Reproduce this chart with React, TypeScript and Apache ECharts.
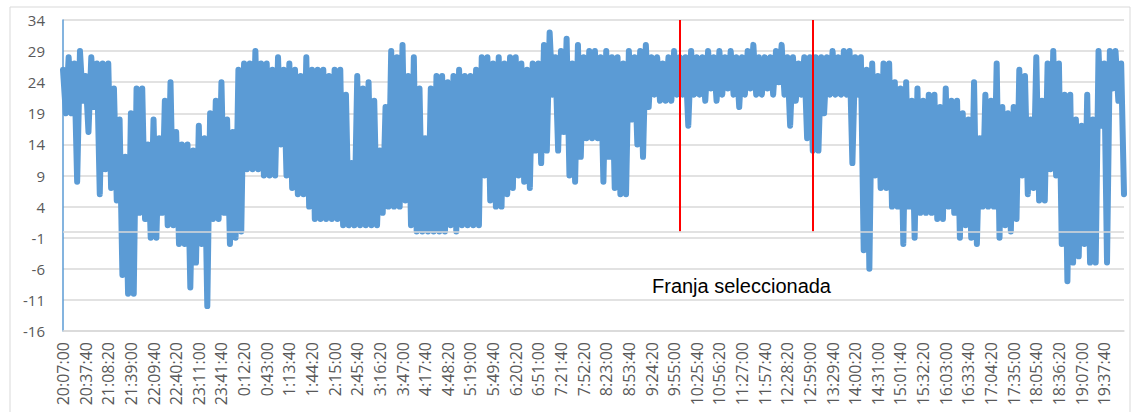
import React, { useEffect, useRef } from "react";
import * as echarts from "echarts";

// Axis tick labels (every 8th category)
const tickLabels = [
  "20:07:00", "20:37:40", "21:08:20", "21:39:00", "22:09:40", "22:40:20", "23:11:00", "23:41:40",
  "0:12:20", "0:43:00", "1:13:40", "1:44:20", "2:15:00", "2:45:40", "3:16:20", "3:47:00",
  "4:17:40", "4:48:20", "5:19:00", "5:49:40", "6:20:20", "6:51:00", "7:21:40", "7:52:20",
  "8:23:00", "8:53:40", "9:24:20", "9:55:00", "10:25:40", "10:56:20", "11:27:00", "11:57:40",
  "12:28:20", "12:59:00", "13:29:40", "14:00:20", "14:31:00", "15:01:40", "15:32:20", "16:03:00",
  "16:33:40", "17:04:20", "17:35:00", "18:05:40", "18:36:20", "19:07:00", "19:37:40",
];

// Readings (upper and lower swings of each sampling pair)
const highs = [
  26, 28, 27, 29, 25, 28, 27, 27, 27, 23,
  18, 12, 19, 23, 23, 14, 18, 15, 21, 24,
  16, 14, 14, 13, 17, 15, 19, 21, 24, 18,
  16, 26, 27, 27, 29, 27, 27, 26, 28, 26,
  27, 26, 25, 28, 26, 26, 26, 25, 26, 26,
  22, 11, 25, 23, 24, 21, 13, 20, 29, 28,
  30, 25, 28, 23, 15, 23, 25, 25, 24, 25,
  26, 25, 25, 26, 28, 28, 27, 28, 27, 28,
  28, 27, 26, 27, 27, 30, 32, 28, 29, 31,
  27, 30, 28, 29, 29, 28, 29, 28, 28, 27,
  29, 28, 29, 30, 28, 28, 27, 28, 29, 28,
  28, 29, 28, 28, 29, 28, 29, 28, 29, 28,
  28, 29, 30, 28, 28, 28, 29, 30, 28, 28,
  27, 28, 28, 28, 28, 28, 29, 28, 29, 29,
  28, 28, 26, 27, 25, 27, 27, 24, 23, 24,
  21, 23, 21, 22, 22, 20, 23, 21, 21, 19,
  18, 24, 15, 22, 21, 27, 20, 19, 20, 26,
  25, 18, 28, 21, 27, 29, 27, 22, 22, 18,
  17, 22, 18, 29, 27, 29, 29, 27,
];
const lows = [
  19, 19, 8, 21, 16, 20, 6, 10, 7, 5,
  -7, -10, -10, 3, 2, -1, -1, 3, 1, 1,
  -2, -2, -9, -5, -2, -12, 2, 2, 3, -2,
  -1, 0, 10, 10, 10, 9, 9, 9, 14, 9,
  7, 6, 6, 4, 2, 2, 2, 2, 2, 1,
  1, 1, 1, 1, 1, 1, 3, 4, 4, 4,
  5, 1, 0, 0, 0, 0, 0, 0, 1, 0,
  1, 1, 1, 1, 9, 5, 4, 4, 6, 7,
  9, 8, 7, 13, 11, 13, 22, 13, 16, 9,
  8, 12, 15, 15, 15, 8, 12, 7, 6, 6,
  18, 14, 12, 20, 22, 21, 21, 21, 22, 22,
  17, 22, 22, 21, 23, 21, 22, 23, 22, 20,
  22, 23, 22, 22, 23, 22, 24, 22, 17, 21,
  22, 15, 13, 13, 19, 22, 22, 22, 22, 11,
  22, -3, -6, 9, 7, 7, 4, 4, -2, 4,
  -1, 3, 3, 3, 2, 2, 4, 3, -1, 1,
  -1, -2, 4, 4, 4, -1, 1, 0, 2, 9,
  6, 7, 5, 5, 10, 9, -2, -8, -5, -4,
  -2, -5, -5, 17, -5, 23, 21, 6,
];

const bandMarkers = ["10:02:40", "13:02:50"];
const bandLabel = "Franja seleccionada";

const START_SEC = 20 * 3600 + 7 * 60;
const STEP_SEC = 230;

function fmtTime(sec: number): string {
  const s = ((sec % 86400) + 86400) % 86400;
  const h = Math.floor(s / 3600);
  const m = Math.floor((s % 3600) / 60);
  const ss = s % 60;
  return `${h}:${String(m).padStart(2, "0")}:${String(ss).padStart(2, "0")}`;
}

export default function App() {
  const ref = useRef<HTMLDivElement>(null);

  useEffect(() => {
    document.body.style.margin = "0";
    if (!ref.current) return;
    const chart = echarts.init(ref.current, undefined, { renderer: "svg" });

    const values: number[] = [];
    for (let i = 0; i < highs.length; i++) {
      values.push(highs[i]);
      values.push(lows[i]);
    }
    const categories = values.map((_, i) => fmtTime(START_SEC + i * STEP_SEC));

    const option: any = {
      animation: false,
      backgroundColor: "#ffffff",
      grid: { left: 63, right: 13, top: 20, bottom: 81, containLabel: false },
      xAxis: {
        type: "category",
        data: categories,
        boundaryGap: false,
        axisLine: { onZero: false, lineStyle: { color: "#d9d9d9", width: 1.5 } },
        axisTick: { show: false },
        axisLabel: {
          interval: 7,
          rotate: 90,
          margin: 11,
          color: "#595959",
          fontFamily: "Open Sans",
          fontSize: 16,
          formatter: (v: string, idx: number) => (idx % 8 === 0 ? tickLabels[idx / 8] ?? v : ""),
        },
        splitLine: { show: false },
      },
      yAxis: {
        type: "value",
        min: -16,
        max: 34,
        interval: 5,
        axisLine: { show: true, lineStyle: { color: "#5b9bd5", width: 1.5 } },
        axisTick: { show: false },
        axisLabel: {
          margin: 18,
          color: "#595959",
          fontFamily: "Open Sans",
          fontSize: 15,
        },
        splitLine: { lineStyle: { color: "#d9d9d9", width: 1.5 } },
      },
      series: [
        {
          type: "line",
          data: values,
          showSymbol: false,
          symbol: "none",
          lineStyle: { color: "#5b9bd5", width: 6, cap: "round", join: "round" },
          z: 3,
          markLine: {
            silent: true,
            symbol: "none",
            label: { show: false },
            lineStyle: { color: "#ff0000", width: 2, type: "solid" },
            z: 5,
            data: [
              [{ coord: [bandMarkers[0], 0] }, { coord: [bandMarkers[0], 34] }],
              [{ coord: [bandMarkers[1], 0] }, { coord: [bandMarkers[1], 34] }],
            ],
          },
        },
        {
          type: "line",
          data: [],
          markLine: {
            silent: true,
            symbol: "none",
            label: { show: false },
            lineStyle: { color: "#d9d9d9", width: 1.5, type: "solid" },
            data: [{ yAxis: 0 }],
          },
          z: 1,
        },
      ],
      graphic: [
        {
          type: "rect",
          shape: { x: 10, y: 7, width: 1120, height: 420 },
          style: { fill: "none", stroke: "#d9d9d9", lineWidth: 1 },
          silent: true,
          z: -1,
        },
        {
          type: "text",
          left: 652,
          top: 276,
          style: {
            text: bandLabel,
            fill: "#000000",
            font: "20px 'Liberation Sans', Arial, sans-serif",
          },
          z: 10,
        },
      ],
    };

    chart.setOption(option);
    return () => chart.dispose();
  }, []);

  return <div ref={ref} style={{ width: 1137, height: 412 }} />;
}
